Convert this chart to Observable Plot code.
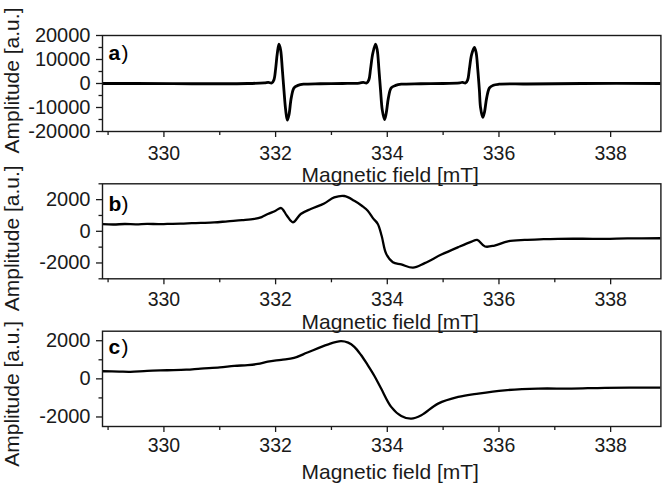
<!DOCTYPE html>
<html>
<head>
<meta charset="utf-8">
<script src="https://cdn.jsdelivr.net/npm/d3@7"></script>
<script src="https://cdn.jsdelivr.net/npm/@observablehq/plot@0.6"></script>
<style>
  html, body { margin: 0; padding: 0; background: #fff; }
  #wrap { position: relative; width: 662px; height: 484px; overflow: hidden; font-family: "Liberation Sans", Arial, sans-serif; }
  .panel { position: absolute; left: 0; }
  .panel svg { background: transparent !important; overflow: visible; }
</style>
</head>
<body>
<div id="wrap">
  <div class="panel" id="pa" style="top:0px"></div>
  <div class="panel" id="pb" style="top:150px"></div>
  <div class="panel" id="pc" style="top:300px"></div>
</div>
<script>
// ---- data ----
const xMajorTicks = [330, 332, 334, 336, 338];
const xMinorTicks = [329, 331, 333, 335, 337];
const xLabel = "Magnetic field [mT]";
const yLabel = "Amplitude [a.u.]";

const aYTicks = [-20000, -10000, 0, 10000, 20000];
const aYMinor = [-15000, -5000, 5000, 15000];
const aField = [328.9, 329.5, 330.5, 331.5, 331.8, 331.87, 331.93, 331.97, 332.00, 332.03, 332.06, 332.09, 332.12, 332.15, 332.18, 332.21, 332.24, 332.28, 332.33, 332.40, 332.50, 332.8, 333.2, 333.5, 333.57, 333.63, 333.67, 333.70, 333.74, 333.79, 333.82, 333.85, 333.88, 333.91, 333.95, 333.98, 334.02, 334.07, 334.15, 334.25, 334.6, 335.0, 335.3, 335.35, 335.40, 335.44, 335.47, 335.51, 335.56, 335.59, 335.62, 335.65, 335.67, 335.71, 335.74, 335.78, 335.83, 335.90, 336.0, 336.5, 337.5, 338.9];
const aAmp = [0, 0, -100, 0, 300, 500, 200, 1500, 6000, 12500, 16400, 14000, 6000, -3000, -11000, -15300, -13000, -6000, -1800, -800, -300, -100, 0, 200, 500, 200, 1500, 6000, 12500, 16400, 14000, 6000, -3000, -11000, -15000, -12500, -6000, -1800, -800, -300, -100, 0, 300, 500, 200, 1500, 6000, 12000, 15000, 13000, 6000, -3000, -10000, -14100, -12000, -6000, -1800, -700, -300, -200, 0, 0];

const bYTicks = [-2000, 0, 2000];
const bYMinor = [-3000, -1000, 1000, 3000];
const bField = [328.9, 329.1, 329.3, 329.5, 329.7, 329.9, 330.06, 330.3, 330.5, 330.66, 330.9, 331.14, 331.4, 331.62, 331.75, 331.86, 332.0, 332.10, 332.2, 332.31, 332.45, 332.63, 332.87, 333.05, 333.23, 333.41, 333.55, 333.65, 333.75, 333.83, 333.90, 333.98, 334.10, 334.25, 334.46, 334.67, 334.97, 335.27, 335.51, 335.61, 335.75, 335.92, 336.16, 336.46, 336.8, 337.06, 337.5, 337.90, 338.3, 338.9];
const bAmp = [450, 430, 460, 440, 470, 450, 465, 480, 510, 530, 560, 630, 700, 780, 900, 1090, 1300, 1470, 1000, 570, 1090, 1410, 1760, 2140, 2230, 1930, 1600, 1300, 800, 465, -300, -1420, -1950, -2090, -2300, -2010, -1470, -1000, -650, -540, -960, -900, -630, -540, -500, -480, -470, -480, -450, -440];

const cYTicks = [-2000, 0, 2000];
const cYMinor = [-1000, 1000];
const cField = [328.9, 329.2, 329.4, 329.7, 330.06, 330.4, 330.66, 331.0, 331.26, 331.5, 331.68, 331.86, 332.1, 332.33, 332.57, 332.93, 333.17, 333.3, 333.41, 333.53, 333.65, 333.77, 333.89, 334.07, 334.25, 334.43, 334.61, 334.91, 335.27, 335.63, 336.10, 336.70, 337.30, 337.90, 338.9];
const cAmp = [400, 380, 370, 420, 450, 480, 540, 600, 680, 720, 780, 900, 1000, 1100, 1380, 1800, 1980, 1900, 1680, 1250, 720, 150, -510, -1470, -1950, -2090, -1910, -1300, -950, -770, -600, -510, -510, -470, -460];

// ---- drawing ----
const FONT = "Liberation Sans, Arial, sans-serif";
const INK = "#1a1a1a";

function panel({field, amp, yDomain, yTicks, yMinor, height, mt, mb, letter, letterDy, tickPad, xlabDy, ylabDy, sw}) {
  const data = field.map((f, i) => ({f, v: amp[i]}));
  return Plot.plot({
    width: 662,
    height,
    marginLeft: 102,
    marginRight: 1.6,
    marginTop: mt,
    marginBottom: mb,
    style: {fontFamily: FONT, background: "transparent", color: INK},
    x: {domain: [328.9, 338.9]},
    y: {domain: yDomain},
    marks: [
      Plot.line(data, {x: "f", y: "v", stroke: "#000", strokeWidth: sw, curve: "catmull-rom", clip: true}),
      Plot.frame({stroke: INK, strokeWidth: 1.4}),
      Plot.axisX({ticks: xMajorTicks, tickSize: 6, tickPadding: tickPad, fontSize: 19.5, label: null, strokeWidth: 1.3, tickFormat: d => String(d)}),
      Plot.axisX({ticks: xMinorTicks, tickSize: 4, text: null, label: null, strokeWidth: 1.3}),
      Plot.axisY({ticks: yTicks, tickSize: 6, tickPadding: 6, fontSize: 20, label: null, strokeWidth: 1.3, tickFormat: d => String(d)}),
      Plot.axisY({ticks: yMinor, tickSize: 3.5, text: null, label: null, strokeWidth: 1.3}),
      Plot.text([xLabel], {text: d => d, frameAnchor: "bottom", dx: 8.5, dy: xlabDy, lineAnchor: "top", fontSize: 21, fill: INK}),
      Plot.text([yLabel], {text: d => d, frameAnchor: "left", dx: -90.5, dy: ylabDy, rotate: -90, textAnchor: "middle", lineAnchor: "middle", fontSize: 21, fill: INK}),
      Plot.text([letter], {text: d => d, frameAnchor: "top-left", dx: 6, dy: letterDy, lineAnchor: "bottom", textAnchor: "start", fontSize: 21, fontWeight: "bold", fill: "#000"}),
      Plot.text([")"], {text: d => d, frameAnchor: "top-left", dx: 19, dy: letterDy, lineAnchor: "bottom", textAnchor: "start", fontSize: 21, fill: "#000"})
    ]
  });
}

document.getElementById("pa").append(panel({
  field: aField, amp: aAmp, yDomain: [-20000, 20000], yTicks: aYTicks, yMinor: aYMinor,
  height: 184, mt: 35, mb: 53, letter: "a", letterDy: 24.5, tickPad: 8.5, xlabDy: 35.5, ylabDy: -3, sw: 2.8
}));
document.getElementById("pb").append(panel({
  field: bField, amp: bAmp, yDomain: [-3000, 3000], yTicks: bYTicks, yMinor: bYMinor,
  height: 185, mt: 33.3, mb: 56.7, letter: "b", letterDy: 27, tickPad: 7, xlabDy: 35, ylabDy: 7, sw: 2.3
}));
document.getElementById("pc").append(panel({
  field: cField, amp: cAmp, yDomain: [-2500, 2500], yTicks: cYTicks, yMinor: cYMinor,
  height: 184, mt: 30.7, mb: 58, letter: "c", letterDy: 22.5, tickPad: 6, xlabDy: 37.5, ylabDy: 15, sw: 2.3
}));
</script>
</body>
</html>
